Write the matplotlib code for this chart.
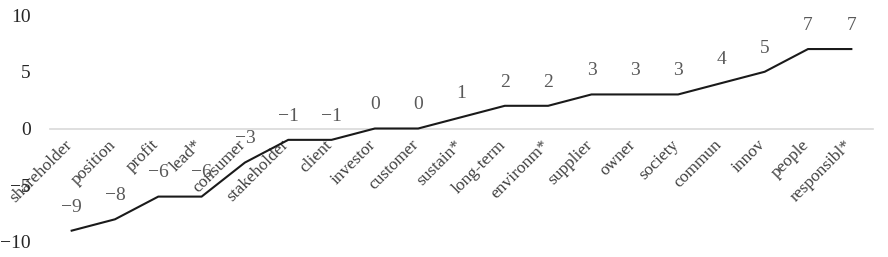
import numpy as np
import matplotlib
matplotlib.use('Agg')
import matplotlib.pyplot as plt
import matplotlib.transforms as mtrans

plt.rcParams['font.family'] = ['Liberation Serif', 'DejaVu Serif']

words = ['shareholder', 'position', 'profit', 'lead*', 'consumer', 'stakeholder',
         'client', 'investor', 'customer', 'sustain*', 'long-term', 'environm*',
         'supplier', 'owner', 'society', 'commun', 'innov', 'people', 'responsibl*']
scores = [-9, -8, -6, -6, -3, -1, -1, 0, 0, 1, 2, 2, 3, 3, 3, 4, 5, 7, 7]
yticks = [-10, -5, 0, 5, 10]

fig = plt.figure(figsize=(8.88, 2.57), dpi=100)
ax = fig.add_axes([50/888, 15/257, 823/888, 227/257])

x = np.arange(len(words))
# line above the grey zero axis
ax.plot(x, scores, color='#1a1a1a', lw=1.5, solid_joinstyle='miter', zorder=3)

for xi, yi in zip(x, scores):
    lab = str(yi).replace('-', '\u2212')
    ax.annotate(lab, (xi, yi), xytext=(0, 17), textcoords='offset points',
                ha='center', va='center', fontsize=14, color='#595959')

ax.set_xlim(-0.5, len(words) - 0.5)
ax.set_ylim(-10, 10)
ax.set_yticks(yticks)
ax.set_yticklabels([str(v).replace('-', '\u2212') for v in yticks],
                   fontsize=14, color='#262626')
ax.tick_params(axis='y', length=0, pad=14)

ax.spines['bottom'].set_position(('data', 0))
ax.spines['bottom'].set_color('#d9d9d9')
ax.spines['bottom'].set_linewidth(1.2)
for s in ['top', 'right', 'left']:
    ax.spines[s].set_visible(False)

ax.set_xticks(x)
ax.set_xticklabels(words, rotation=45, ha='right', va='top',
                   fontsize=12.5, color='#404040')
ax.tick_params(axis='x', length=0, pad=6)
shift = mtrans.ScaledTranslation(4/100, 0, fig.dpi_scale_trans)
for t in ax.get_xticklabels():
    t.set_transform(t.get_transform() + shift)
ax.set_zorder(1)

fig.savefig('out.png', dpi=100)
